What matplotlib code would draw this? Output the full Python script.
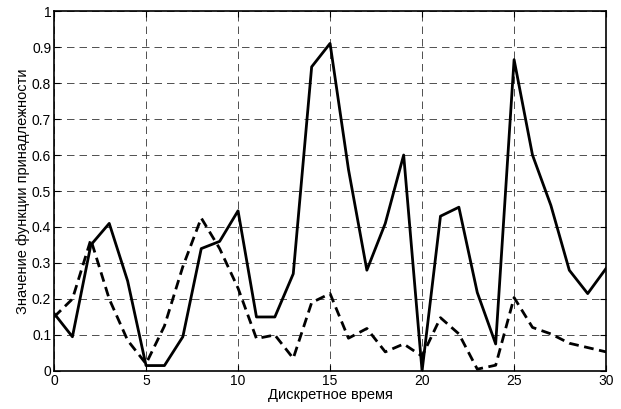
import numpy as np
import matplotlib.pyplot as plt

plt.rcParams['font.family'] = ['Liberation Sans', 'DejaVu Sans']

t = np.arange(0, 31)
mu_solid = [0.16, 0.095, 0.35, 0.41, 0.25, 0.015, 0.015, 0.095, 0.34, 0.36,
            0.445, 0.15, 0.15, 0.27, 0.845, 0.91, 0.56, 0.28, 0.41, 0.6,
            0.0, 0.43, 0.455, 0.218, 0.075, 0.865, 0.6, 0.46, 0.28, 0.215, 0.285]
mu_dashed = [0.15, 0.2, 0.365, 0.2, 0.085, 0.02, 0.125, 0.29, 0.425, 0.34,
             0.23, 0.09, 0.1, 0.035, 0.19, 0.215, 0.091, 0.118, 0.053, 0.075,
             0.041, 0.148, 0.103, 0.005, 0.016, 0.204, 0.121, 0.103, 0.077, 0.065, 0.053]

fig = plt.figure(figsize=(6.21, 4.09), dpi=100)
ax = fig.add_axes([0.087, 0.093, 0.889, 0.880])

ax.plot(t, mu_solid, color='black', lw=2)
ax.plot(t, mu_dashed, color='black', lw=2, linestyle=(0, (3.5, 2)))

ax.set_xlim(0, 30)
ax.set_ylim(0, 1)
ax.set_xticks(np.arange(0, 31, 5))
ax.set_yticks(np.arange(0, 1.01, 0.1))
ax.set_yticklabels(['0', '0.1', '0.2', '0.3', '0.4', '0.5', '0.6', '0.7', '0.8', '0.9', '1'])
ax.grid(True, color='#333333', linestyle=(0, (9, 6)), lw=0.6)
ax.tick_params(direction='in', top=True, right=True, labelsize=10, length=4, pad=2)
for s in ax.spines.values():
    s.set_linewidth(1.2)

ax.set_xlabel('Дискретное время', fontsize=10.5, labelpad=0)
ax.set_ylabel('Значение функции принадлежности', fontsize=10.5, labelpad=1)

fig.savefig('out.png', dpi=100)
